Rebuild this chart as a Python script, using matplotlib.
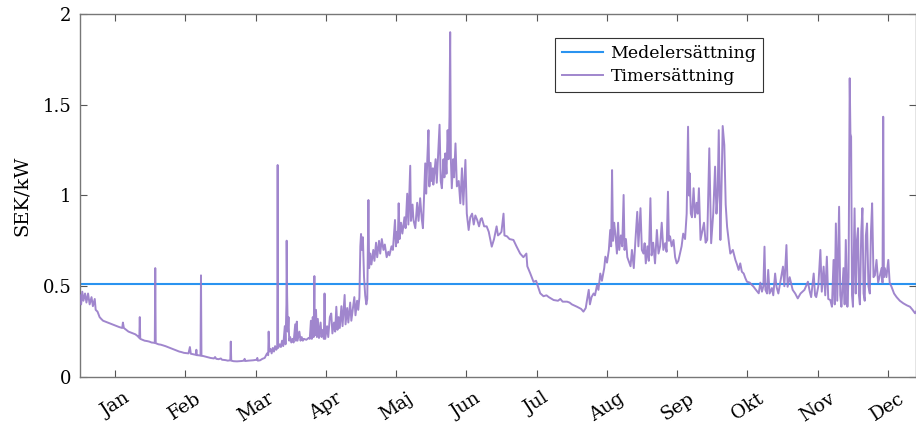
import matplotlib
matplotlib.use("Agg")
import matplotlib.pyplot as plt
from matplotlib.ticker import FixedLocator, FixedFormatter

# ---- data (day of year, SEK/kW) ----
day = [
    0, 0.5, 1.0, 1.5, 2.2, 2.8, 3.5, 4.2, 5.0, 5.6, 6.4, 6.8, 7.6, 8.5, 9.2, 10, 11, 12, 13, 14, 15, 16, 17,
    18.3, 18.6, 19, 20, 21, 22, 23, 24, 25, 25.7, 25.9, 26.1, 27, 28, 29, 30, 31, 32.4, 32.6, 32.8,
    34, 35, 36, 37, 38, 39, 40, 41, 42, 43, 44, 45, 47, 47.6, 48, 49, 50.2, 50.4, 50.6, 51,
    52.2, 52.4, 52.6, 53.5, 55, 56.5, 58, 58.5, 59, 60, 61, 61.5, 63, 64, 65.1, 65.3, 65.5, 66.5, 68, 70,
    71, 71.3, 71.6, 73, 75, 76.5, 76.8, 77, 78, 79, 80, 81, 81.5, 81.7, 82, 82.5, 83, 83.5, 84, 84.5, 85,
    85.4, 85.6, 85.8, 86.5, 87, 87.5, 88, 88.7, 89, 89.4, 89.5, 89.7, 90, 90.3, 90.6, 91, 91.5, 92, 92.5,
    93.2, 93.5, 93.9, 94.2, 95, 95.5, 96, 96.5, 97, 98, 99, 99.5, 100, 100.4, 100.8, 101.2, 101.5, 101.7,
    102.2, 102.6, 103, 103.5, 104.2, 104.6, 105.2, 105.6, 105.9, 106.2, 107, 107.5, 108.2, 108.8, 109.3,
    110, 110.5, 111, 111.5, 112, 112.5, 113.2, 113.7, 114.6, 115, 115.7, 116.2, 117, 117.5, 118.2, 118.8,
    119.3, 120, 120.5, 121, 121.4, 121.7, 122.1, 122.5, 123, 123.5, 124, 124.4, 124.9, 125.2,
    125.7, 126.2, 127, 127.5, 128.2, 128.7, 129.5, 130, 130.7, 131.4, 132, 132.8, 133.5, 134, 134.9, 135.5,
    136.4, 136.8, 137.3, 137.6, 138, 138.4, 139, 139.6, 140.5, 141, 141.7, 142.2, 143, 143.3, 144, 144.4,
    145.2, 146, 146.6, 147.3, 148, 148.5, 149.5, 149.9, 150.4, 150.9, 151.3, 151.8, 152.3, 152.8, 153,
    154, 154.5, 155.7, 156.2, 156.7, 157.4, 157.8, 158.2, 158.7, 159.2, 159.6, 160, 160.3, 160.6,
    161, 161.6, 162, 162.6, 163.2, 164, 164.7, 165.4, 166, 166.9, 167.5, 168.3, 169, 169.8, 170.5, 171.2,
    172, 172.8, 173.5, 174, 175, 176.1, 177, 178.3, 179.3, 180.4, 181, 181.9, 182.5, 183.4, 183.8,
    184.9, 186, 187.7, 189, 190.6, 192, 193.3, 193.7, 195, 196.4, 197.5, 198.3, 199.3, 200.7, 202,
    203, 205.1, 207, 208, 209, 210.9, 212, 213, 215.2, 217, 218, 219, 219.5, 220.3, 220.8,
    221.5, 222.4, 223, 223.9, 224.5, 225.3, 226, 227, 227.5, 228.2, 229, 229.6, 230, 230.4, 230.8,
    231.3, 231.8, 232.5, 233, 233.5, 234.2, 234.8, 235.4, 235.8, 236.4, 237, 238.4, 239, 239.8,
    240.5, 241.3, 241.8, 242.7, 243.3, 244, 244.5, 245, 245.7, 246.3, 247, 247.5, 248.2, 249,
    249.8, 250.5, 251.2, 251.9, 252.6, 253.4, 254, 254.6, 255, 255.5, 256.2, 257, 257.7, 258.4,
    259.1, 259.8, 260.5, 261.2, 262, 262.7, 263.3, 263.7, 264, 264.5, 265, 265.7, 266.3, 267,
    267.5, 268, 268.7, 269.4, 270.2, 270.9, 271.6, 272.5, 273.3, 274.2, 275, 275.6, 276.1, 276.6,
    277.3, 277.8, 278.3, 279, 279.6, 280.2, 281, 281.6, 282.7, 283.8, 284.5, 285.2, 285.9, 286.6,
    287.4, 288.1, 288.8, 290, 291.7, 292.7, 293.9, 294.6, 295.3, 295.9, 296.4, 296.8, 297.5, 298,
    298.6, 299.6, 300.2, 301, 301.6, 302.4, 303.2, 304.4, 305, 305.9, 306.4, 307.3, 308.6, 309.7,
    310.8, 312, 313.7, 315.2, 316, 316.6, 317.7, 318.3, 318.8, 319.7, 320.6, 321.2, 322, 322.7,
    323.4, 324, 324.9, 325.6, 326.3, 326.8, 327.3, 327.9, 328.7, 329.2, 329.7, 330.6, 331.1, 331.6,
    332.3, 332.8, 333.3, 333.6, 333.9, 334.3, 334.7, 335.4, 335.9, 336.4, 336.9, 337.3, 337.7, 338.3,
    338.8, 339.3, 339.8, 340.3, 340.8, 341.4, 342, 342.5, 343, 343.6, 344.2, 344.9, 345.6, 346.4,
    347.1, 347.5, 347.8, 348.1, 348.5, 349.2, 350, 350.6, 351.4, 352.5, 353.6, 355, 356.5, 358,
    359.4, 360.5, 361.6, 362,
]
timer = [
    0.45, 0.40, 0.47, 0.42, 0.46, 0.41, 0.46, 0.40, 0.44, 0.39, 0.43, 0.37, 0.36, 0.33, 0.32, 0.31, 0.305, 0.30, 0.295, 0.29, 0.285, 0.28, 0.275,
    0.27, 0.30, 0.27, 0.26, 0.25, 0.245, 0.24, 0.235, 0.225, 0.215, 0.33, 0.21, 0.205, 0.20, 0.198, 0.195, 0.19, 0.188, 0.60, 0.186,
    0.18, 0.178, 0.174, 0.17, 0.165, 0.16, 0.155, 0.15, 0.145, 0.14, 0.137, 0.133, 0.13, 0.165, 0.128, 0.125, 0.122, 0.15, 0.12, 0.12,
    0.118, 0.56, 0.117, 0.115, 0.11, 0.105, 0.102, 0.11, 0.10, 0.098, 0.102, 0.095, 0.093, 0.09, 0.092, 0.195, 0.09, 0.087, 0.086, 0.088,
    0.09, 0.10, 0.088, 0.09, 0.092, 0.095, 0.105, 0.09, 0.092, 0.10, 0.105, 0.13, 0.12, 0.25, 0.14, 0.155, 0.13, 0.16, 0.14, 0.17, 0.15,
    0.16, 1.168, 0.16, 0.18, 0.165, 0.20, 0.17, 0.28, 0.18, 0.40, 0.751, 0.45, 0.25, 0.33, 0.20, 0.22, 0.19, 0.21, 0.19,
    0.29, 0.20, 0.305, 0.20, 0.25, 0.20, 0.22, 0.20, 0.21, 0.205, 0.215, 0.21, 0.31, 0.21, 0.33, 0.22, 0.556, 0.23,
    0.37, 0.22, 0.32, 0.215, 0.30, 0.22, 0.26, 0.21, 0.46, 0.21, 0.28, 0.22, 0.33, 0.35, 0.24,
    0.30, 0.25, 0.387, 0.26, 0.33, 0.27, 0.39, 0.28, 0.452, 0.29, 0.38, 0.30, 0.41, 0.31, 0.38, 0.44,
    0.34, 0.42, 0.37, 0.44, 0.72, 0.788, 0.70, 0.77, 0.55, 0.45, 0.40, 0.43, 0.975, 0.60,
    0.68, 0.62, 0.70, 0.64, 0.74, 0.66, 0.75, 0.68, 0.76, 0.70, 0.73, 0.66, 0.69, 0.67, 0.72, 0.70,
    0.865, 0.72, 0.80, 0.74, 0.957, 0.76, 0.85, 0.79, 0.88, 0.82, 1.01, 0.84, 1.164, 0.86, 0.95, 0.865,
    0.82, 0.96, 0.86, 0.985, 0.87, 0.82, 1.177, 1.01, 1.20, 1.36, 1.05, 1.18, 1.08, 1.15, 1.06,
    1.20, 1.07, 1.39, 1.08, 1.04, 1.20, 1.10, 1.232, 1.12, 1.36, 1.20, 1.434, 1.90, 1.20,
    1.04, 1.20, 1.10, 1.287, 1.05, 1.08, 0.957, 1.15, 0.95, 1.196, 0.90, 0.81, 0.88, 0.90, 0.84, 0.89,
    0.865, 0.83, 0.87, 0.875, 0.83, 0.83, 0.80, 0.718, 0.76, 0.83, 0.78, 0.79, 0.80, 0.90, 0.78,
    0.775, 0.76, 0.755, 0.72, 0.68, 0.66, 0.68, 0.61, 0.57, 0.524, 0.53, 0.50, 0.461, 0.445, 0.45,
    0.44, 0.424, 0.42, 0.43, 0.415, 0.415, 0.41, 0.40, 0.387, 0.375, 0.36, 0.38, 0.42, 0.48, 0.40,
    0.44, 0.46, 0.45, 0.507, 0.48, 0.57, 0.53, 0.60, 0.663, 0.63, 0.70, 0.81, 0.72, 1.14, 0.75,
    0.85, 0.79, 0.68, 0.85, 0.70, 0.78, 0.72, 1.003, 0.70, 0.76, 0.66, 0.61, 0.70, 0.60,
    0.75, 0.91, 0.72, 0.93, 0.70, 0.68, 0.737, 0.626, 0.72, 0.64, 0.985, 0.67, 0.74, 0.626,
    0.81, 0.68, 0.72, 0.85, 0.70, 0.737, 0.69, 1.021, 0.75, 0.775, 0.72, 0.755, 0.66, 0.626,
    0.64, 0.68, 0.72, 0.79, 0.76, 0.90, 1.379, 1.00, 1.122, 0.90, 0.88, 1.04, 0.88, 0.96,
    0.90, 1.04, 0.755, 0.80, 0.85, 0.74, 0.755, 1.26, 0.737, 0.90, 1.159, 0.90, 1.00, 1.36,
    0.755, 1.05, 1.383, 1.278, 0.95, 0.828, 0.74, 0.68, 0.70, 0.645, 0.62, 0.59, 0.626, 0.58,
    0.57, 0.545, 0.525, 0.52, 0.497, 0.48, 0.461, 0.52, 0.47, 0.50, 0.718, 0.48, 0.46, 0.59,
    0.46, 0.49, 0.45, 0.57, 0.497, 0.46, 0.52, 0.608, 0.50, 0.727, 0.497, 0.55, 0.48, 0.46,
    0.433, 0.46, 0.48, 0.525, 0.47, 0.44, 0.57, 0.45, 0.44, 0.50, 0.70, 0.47, 0.608, 0.45,
    0.663, 0.43, 0.424, 0.387, 0.645, 0.40, 0.846, 0.42, 0.938, 0.45, 0.387, 0.60, 0.40, 0.755,
    0.387, 0.55, 1.646, 1.34, 1.324, 0.45, 0.387, 0.929, 0.46, 0.75, 0.82, 0.45, 0.40, 0.80,
    0.93, 0.46, 0.42, 0.78, 0.846, 0.50, 0.46, 0.80, 0.957, 0.55, 0.56, 0.645, 0.52, 0.56,
    0.60, 0.52, 1.434, 0.55, 0.60, 0.55, 0.645, 0.52, 0.497, 0.46, 0.44, 0.42, 0.406, 0.395,
    0.387, 0.37, 0.351, 0.36,
]
medel = 0.515
months = ["Jan", "Feb", "Mar", "Apr", "Maj", "Jun", "Jul", "Aug", "Sep", "Okt", "Nov", "Dec"]
yticks = [0, 0.5, 1, 1.5, 2]
ytick_labels = ["0", "0.5", "1", "1.5", "2"]

plt.rcParams["font.family"] = ["DejaVu Serif"]

fig = plt.figure(figsize=(9.16, 4.30), dpi=100)
ax = fig.add_axes([0.0873, 0.1233, 0.9127, 0.8441])

ax.axhline(medel, color="#2a93f0", lw=1.5, label="Medelersättning", zorder=2)
ax.plot(day, timer, color="#9679c8", lw=1.4, alpha=0.9, label="Timersättning", zorder=3)

ax.set_xlim(0, 362)
ax.set_ylim(0, 2)
month_pos = [365 / 12 * (i + 0.5) for i in range(12)]
ax.xaxis.set_major_locator(FixedLocator(month_pos))
ax.xaxis.set_major_formatter(FixedFormatter(months))
ax.yaxis.set_major_locator(FixedLocator(yticks))
ax.yaxis.set_major_formatter(FixedFormatter(ytick_labels))
ax.tick_params(axis="y", direction="in", length=5, width=0.8, color="#555555",
               left=True, right=True, labelsize=13, pad=6)
ax.tick_params(axis="x", direction="in", length=5, width=0.8, color="#555555",
               bottom=True, top=True, labelsize=13.5, pad=9)
for lbl in ax.get_xticklabels():
    lbl.set_rotation(33)
    lbl.set_ha("center")
for sp in ax.spines.values():
    sp.set_color("#777777")
    sp.set_linewidth(1.0)

ax.set_ylabel("SEK/kW", fontsize=14, labelpad=9)

leg = ax.legend(loc="upper left", bbox_to_anchor=(0.568, 0.934), fontsize=12.5,
                frameon=True, fancybox=False, edgecolor="#333333", framealpha=1,
                handlelength=2.4, handletextpad=0.4, borderpad=0.4, labelspacing=0.35,
                borderaxespad=0)
leg.get_frame().set_linewidth(0.8)

fig.savefig("out.png", dpi=100)
